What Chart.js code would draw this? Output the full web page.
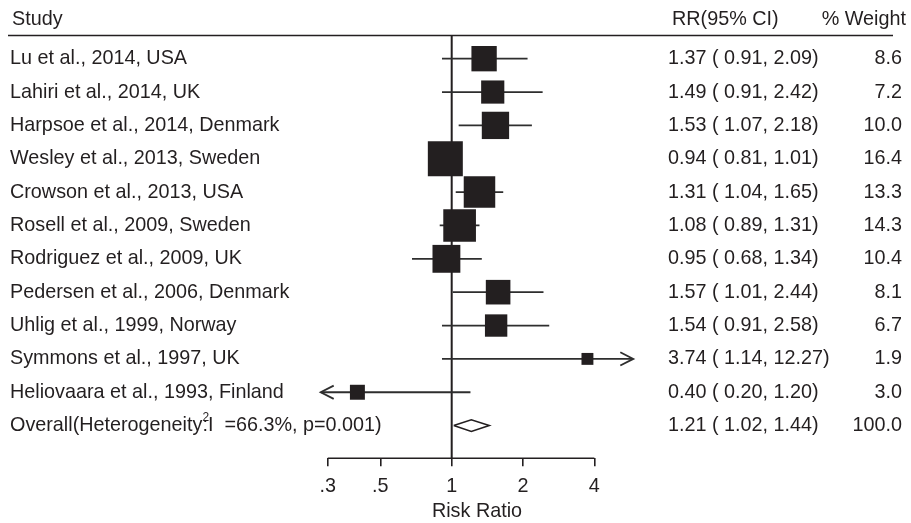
<!DOCTYPE html>
<html>
<head>
<meta charset="utf-8">
<title>Forest plot - Risk Ratio</title>
<script src="https://cdn.jsdelivr.net/npm/chart.js@4.4.1/dist/chart.umd.min.js"></script>
<style>
  html, body { margin: 0; padding: 0; background: #fff; }
  #wrap { position: relative; width: 911px; height: 523px; }
</style>
</head>
<body>
<div id="wrap"><canvas id="forestChart"></canvas></div>
<script>
// Forest plot - study estimates (risk ratio with 95% CI)

const studies = [
    'Lu et al., 2014, USA',
    'Lahiri et al., 2014, UK',
    'Harpsoe et al., 2014, Denmark',
    'Wesley et al., 2013, Sweden',
    'Crowson et al., 2013, USA',
    'Rosell et al., 2009, Sweden',
    'Rodriguez et al., 2009, UK',
    'Pedersen et al., 2006, Denmark',
    'Uhlig et al., 1999, Norway',
    'Symmons et al., 1997, UK',
    'Heliovaara et al., 1993, Finland'
];
// plotted values, as drawn in the figure
const rr      = [1.37, 1.49, 1.53, 0.94, 1.31, 1.08, 0.95, 1.57, 1.54, 3.74, 0.40];
const ciLow   = [0.91, 0.91, 1.07, 0.81, 1.04, 0.89, 0.68, 1.01, 0.91, 0.91, 0.20];
const ciHigh  = [2.09, 2.42, 2.18, 1.01, 1.65, 1.31, 1.34, 2.44, 2.58, 12.27, 1.20];
const weights = [8.6, 7.2, 10.0, 16.4, 13.3, 14.3, 10.4, 8.1, 6.7, 1.9, 3.0];

// printed table column
const rrLabels = [
    '1.37 ( 0.91, 2.09)',
    '1.49 ( 0.91, 2.42)',
    '1.53 ( 1.07, 2.18)',
    '0.94 ( 0.81, 1.01)',
    '1.31 ( 1.04, 1.65)',
    '1.08 ( 0.89, 1.31)',
    '0.95 ( 0.68, 1.34)',
    '1.57 ( 1.01, 2.44)',
    '1.54 ( 0.91, 2.58)',
    '3.74 ( 1.14, 12.27)',
    '0.40 ( 0.20, 1.20)'
];

const overallRR = 1.21;
const overallLow = 1.02;
const overallHigh = 1.44;
const overallWeight = 100.0;

const xTickValues = [0.3, 0.5, 1, 2, 4];
const xTickLabels = ['.3', '.5', '1', '2', '4'];
const headers = ['Study', 'RR(95% CI)', '% Weight'];
const axisTitle = 'Risk Ratio';

/* ========================================
   Layout / style constants
   ======================================== */

const X_MIN = 0.28, X_MAX = 5.84;
const Y_MIN = -0.71, Y_MAX = 11.98;
const INK = '#231f20';
const LINE = '#2e2e2e';
const FONT = "'Liberation Sans', Arial, Helvetica, sans-serif";
const FONT_SIZE = 19.8;
const BOX_SCALE = 8.64;          // box side (px) per sqrt(weight)
const ARROW_K = Math.exp(13 / 102.9);
const ARROW_H = 0.2;
const DIAMOND_H = 0.175;

const clampX = v => Math.min(X_MAX, Math.max(X_MIN, v));
const fmt2 = v => v.toFixed(2);

/* ========================================
   Datasets
   ======================================== */

const datasets = [];

// Null line at RR = 1
datasets.push({
    type: 'line',
    data: [{ x: 1, y: Y_MIN }, { x: 1, y: Y_MAX }],
    borderColor: INK, borderWidth: 2, pointRadius: 0, clip: false, order: 3
});

// Axis line from .3 to 4
datasets.push({
    type: 'line',
    data: [{ x: xTickValues[0], y: Y_MAX }, { x: xTickValues[xTickValues.length - 1], y: Y_MAX }],
    borderColor: INK, borderWidth: 1.6, pointRadius: 0, clip: false, order: 3
});

// Confidence interval lines and arrows where the CI runs off the axis
studies.forEach((s, i) => {
    datasets.push({
        type: 'line',
        data: [{ x: clampX(ciLow[i]), y: i }, { x: clampX(ciHigh[i]), y: i }],
        borderColor: LINE, borderWidth: 1.8, pointRadius: 0, order: 2
    });
    if (ciHigh[i] > X_MAX) {
        datasets.push({
            type: 'line',
            data: [{ x: X_MAX / ARROW_K, y: i - ARROW_H }, { x: X_MAX, y: i }, { x: X_MAX / ARROW_K, y: i + ARROW_H }],
            borderColor: LINE, borderWidth: 1.8, pointRadius: 0, clip: false, order: 2
        });
    }
    if (ciLow[i] < X_MIN) {
        datasets.push({
            type: 'line',
            data: [{ x: X_MIN * ARROW_K, y: i - ARROW_H }, { x: X_MIN, y: i }, { x: X_MIN * ARROW_K, y: i + ARROW_H }],
            borderColor: LINE, borderWidth: 1.8, pointRadius: 0, clip: false, order: 2
        });
    }
});

// Weighted boxes
datasets.push({
    type: 'scatter',
    data: rr.map((v, i) => ({ x: v, y: i })),
    pointStyle: 'rect',
    pointRadius: weights.map(w => BOX_SCALE * Math.sqrt(w) / Math.SQRT2),
    backgroundColor: INK, borderColor: INK, borderWidth: 0,
    clip: false, order: 0
});

// Overall diamond
const overallRow = studies.length;
datasets.push({
    type: 'line',
    data: [
        { x: overallLow, y: overallRow },
        { x: overallRR, y: overallRow - DIAMOND_H },
        { x: overallHigh, y: overallRow },
        { x: overallRR, y: overallRow + DIAMOND_H },
        { x: overallLow, y: overallRow }
    ],
    borderColor: INK, borderWidth: 1.6, pointRadius: 0, fill: false, clip: false, order: 1
});

/* ========================================
   Text columns plugin
   ======================================== */

const textColumns = {
    id: 'textColumns',
    afterDraw(chart) {
        const ctx = chart.ctx;
        const y = chart.scales.y;
        ctx.save();
        ctx.fillStyle = INK;
        ctx.textBaseline = 'middle';
        ctx.font = FONT_SIZE + 'px ' + FONT;

        // Header row and rule
        ctx.textAlign = 'left';
        ctx.fillText(headers[0], 12, 20);
        ctx.fillText(headers[1], 672, 20);
        ctx.textAlign = 'right';
        ctx.fillText(headers[2], 906, 20);

        ctx.strokeStyle = INK;
        ctx.lineWidth = 1.6;
        ctx.beginPath();
        ctx.moveTo(8, chart.chartArea.top + 0.5);
        ctx.lineTo(893, chart.chartArea.top + 0.5);
        ctx.stroke();

        // Study rows
        studies.forEach((s, i) => {
            const py = y.getPixelForValue(i);
            ctx.textAlign = 'left';
            ctx.fillText(s, 10, py);
            ctx.fillText(rrLabels[i], 668, py);
            ctx.textAlign = 'right';
            ctx.fillText(weights[i].toFixed(1), 902, py);
        });

        // Overall row (with the misplaced superscript of the original)
        const py = y.getPixelForValue(overallRow);
        ctx.textAlign = 'left';
        const part1 = 'Overall(Heterogeneity';
        const part2 = ':I  =66.3%, p=0.001)';
        ctx.fillText(part1, 10, py);
        const w1 = ctx.measureText(part1).width;
        ctx.fillText(part2, 10 + w1, py);
        ctx.font = '12px ' + FONT;
        ctx.fillText('2', 10 + w1, py - 8);
        ctx.font = FONT_SIZE + 'px ' + FONT;
        ctx.fillText(fmt2(overallRR) + ' ( ' + fmt2(overallLow) + ', ' + fmt2(overallHigh) + ')', 668, py);
        ctx.textAlign = 'right';
        ctx.fillText(overallWeight.toFixed(1), 902, py);
        ctx.restore();
    }
};

/* ========================================
   Chart
   ======================================== */

new Chart(document.getElementById('forestChart'), {
    type: 'scatter',
    data: { datasets: datasets },
    plugins: [textColumns],
    options: {
        responsive: true,
        maintainAspectRatio: false,
        animation: false,
        events: [],
        layout: { padding: { left: 320.7, right: 277.7, top: 35, bottom: 0 } },
        plugins: { legend: { display: false }, tooltip: { enabled: false } },
        scales: {
            x: {
                type: 'logarithmic',
                min: X_MIN,
                max: X_MAX,
                afterBuildTicks: scale => { scale.ticks = xTickValues.map(v => ({ value: v })); },
                afterFit: scale => { scale.height = 64.7; },
                ticks: {
                    callback: v => xTickLabels[xTickValues.indexOf(v)],
                    color: INK,
                    font: { family: FONT, size: FONT_SIZE },
                    padding: 8,
                    autoSkip: false,
                    maxRotation: 0
                },
                grid: {
                    display: true,
                    drawOnChartArea: false,
                    drawTicks: true,
                    tickLength: 8,
                    tickColor: INK,
                    tickWidth: 1.6,
                    color: INK,
                    lineWidth: 1.6
                },
                border: { display: false },
                title: {
                    display: true,
                    text: axisTitle,
                    color: INK,
                    font: { family: FONT, size: FONT_SIZE },
                    padding: { top: 0, bottom: 0 }
                }
            },
            y: {
                type: 'linear',
                min: Y_MIN,
                max: Y_MAX,
                reverse: true,
                display: false
            }
        }
    }
});
</script>
</body>
</html>
